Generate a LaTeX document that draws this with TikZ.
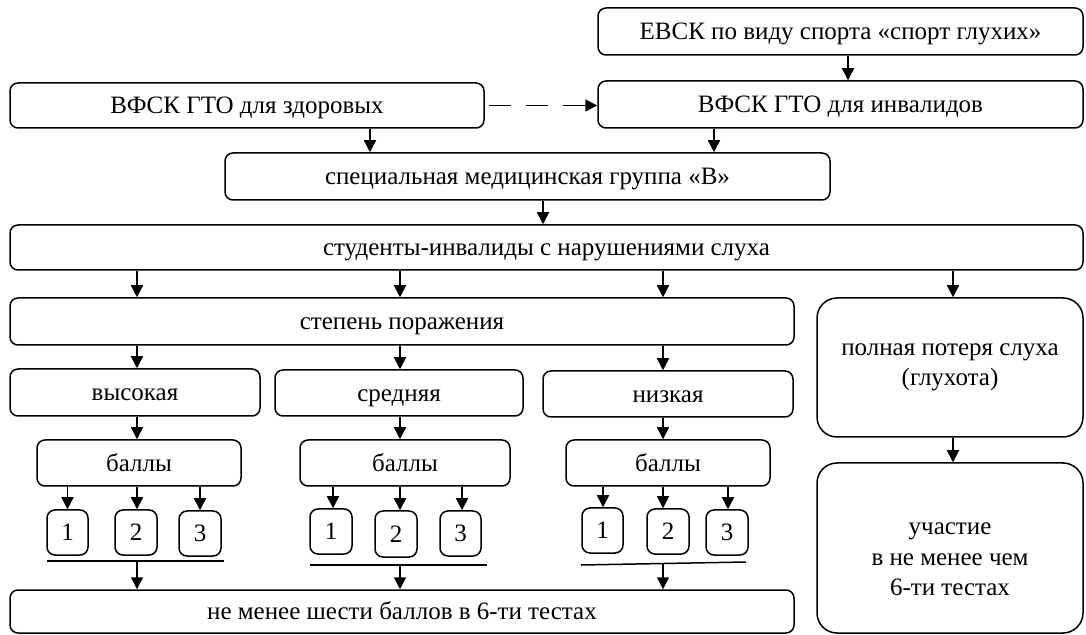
\documentclass[tikz,border=0pt]{standalone}
\usepackage{fontspec}
\setmainfont{Liberation Serif}
\usetikzlibrary{arrows.meta,calc}
\newcommand\bx[7][]{%
  \pgfmathsetmacro\bxw{(#5-#3)*0.5}%
  \pgfmathsetmacro\bxh{(#6-#4)*0.5}%
  \node[box,#1,minimum width=\bxw pt,minimum height=\bxh pt] (#2) at ({(#3+#5)/2},{(#4+#6)/2}) {#7};}
\tikzset{
  box/.style={draw,line width=0.75pt,rounded corners=4pt,inner sep=0pt,align=center,
    text height=8.2pt,text depth=0pt,
    font=\fontsize{12.5}{15.3}\selectfont},
  bigbox/.style={rounded corners=10pt,text height=,text depth=},
  arr/.style={line width=0.75pt,-{Triangle[length=6pt,width=6pt]}},
  uline/.style={line width=0.75pt}
}
\begin{document}
\begin{tikzpicture}[x=0.5pt,y=-0.5pt]
\useasboundingbox (0,0) rectangle (1086,635);
% top boxes
\bx{evsk}{598}{8}{1083}{55}{ЕВСК по виду спорта «спорт глухих»}
\bx{vfi}{598}{81}{1083}{128}{ВФСК ГТО для инвалидов}
\bx{vfz}{10}{83}{484}{128}{ВФСК ГТО для здоровых}
\bx{spec}{225}{153}{830}{200}{специальная медицинская группа «В»}
\bx{stud}{10}{225}{1083}{270}{студенты-инвалиды с нарушениями слуха}
\bx{step}{10}{298}{794}{345}{степень поражения}
\bx[bigbox]{poln}{817}{298}{1083}{437}{полная потеря слуха\\(глухота)}
\bx[bigbox]{uch}{817}{463}{1083}{633}{\\[2pt]участие\\в не менее чем\\6-ти тестах}
\bx{vys}{10}{369}{260}{416}{высокая}
\bx{sred}{275}{370}{523}{416}{средняя}
\bx{niz}{543}{371}{793}{417}{низкая}
\bx{ba}{37}{440}{241}{486}{баллы}
\bx{bb}{300}{440}{510}{486}{баллы}
\bx{bc}{566}{440}{770}{486}{баллы}
\bx{aa}{47}{510}{88}{555}{1}
\bx{ab}{115}{510}{157}{555}{2}
\bx{ac}{179}{511}{221}{556}{3}
\bx{ba1}{310}{509}{352}{554}{1}
\bx{bb1}{375}{511}{417}{557}{2}
\bx{bc1}{440}{511}{481}{556}{3}
\bx{ca}{582}{508}{623}{553}{1}
\bx{cb}{647}{509}{689}{554}{2}
\bx{cc}{706}{510}{748}{555}{3}
\bx{fin}{10}{590}{794}{633}{не менее шести баллов в 6-ти тестах}
% x positions
\coordinate (x1) at (137,0);
\coordinate (x2) at (400,0);
\coordinate (x3) at (663,0);
\coordinate (x4) at (953,0);
\coordinate (xe) at (848,0);
\coordinate (xz) at (370,0);
\coordinate (xi) at (714,0);
\coordinate (xs) at (543,0);
\coordinate (xm1) at (333,0);
\coordinate (xm3) at (462,0);
\coordinate (xr1) at (603,0);
\coordinate (xr3) at (728,0);
% top connectors
\draw[arr] (evsk.south -| xe) -- (vfi.north -| xe);
\draw[arr,dash pattern=on 11pt off 7.5pt] (vfz.east) ++(4,0) coordinate (ds) (ds) -- (vfi.west |- ds);
\draw[arr] (vfz.south -| xz) -- (spec.north -| xz);
\draw[arr] (vfi.south -| xi) -- (spec.north -| xi);
\draw[arr] (spec.south -| xs) -- (stud.north -| xs);
\foreach \c in {x1,x2,x3} \draw[arr] (stud.south -| \c) -- (step.north -| \c);
\draw[arr] (stud.south -| x4) -- (poln.north -| x4);
\draw[arr] (poln.south -| x4) -- (uch.north -| x4);
\draw[arr] (step.south -| x1) -- (vys.north -| x1);
\draw[arr] (step.south -| x2) -- (sred.north -| x2);
\draw[arr] (step.south -| x3) -- (niz.north -| x3);
\draw[arr] (vys.south -| x1) -- (ba.north -| x1);
\draw[arr] (sred.south -| x2) -- (bb.north -| x2);
\draw[arr] (niz.south -| x3) -- (bc.north -| x3);
% to small boxes
\draw[arr] (ba.south -| aa.north) -- (aa.north);
\draw[arr] (ba.south -| x1) -- (ab.north -| x1);
\draw[arr] (ba.south -| ac.north) -- (ac.north);
\draw[arr] (bb.south -| xm1) -- (ba1.north -| xm1);
\draw[arr] (bb.south -| x2) -- (bb1.north -| x2);
\draw[arr] (bb.south -| xm3) -- (bc1.north -| xm3);
\draw[arr] (bc.south -| xr1) -- (ca.north -| xr1);
\draw[arr] (bc.south -| x3) -- (cb.north -| x3);
\draw[arr] (bc.south -| xr3) -- (cc.north -| xr3);
% underlines
\coordinate (ula) at (47,561); \coordinate (ulb) at (224,561);
\coordinate (umb) at (310,565); \coordinate (ume) at (487,565);
\coordinate (urb) at (581,565); \coordinate (ure) at (746,562);
\draw[uline] (ula) -- (ulb);
\draw[uline] (umb) -- (ume);
\draw[uline] (urb) -- (ure);
\coordinate (urm) at (663,563.5);
\draw[arr] (ula -| x1) -- (fin.north -| x1);
\draw[arr] (umb -| x2) -- (fin.north -| x2);
\draw[arr] (urm) -- (fin.north -| x3);
\end{tikzpicture}
\end{document}
